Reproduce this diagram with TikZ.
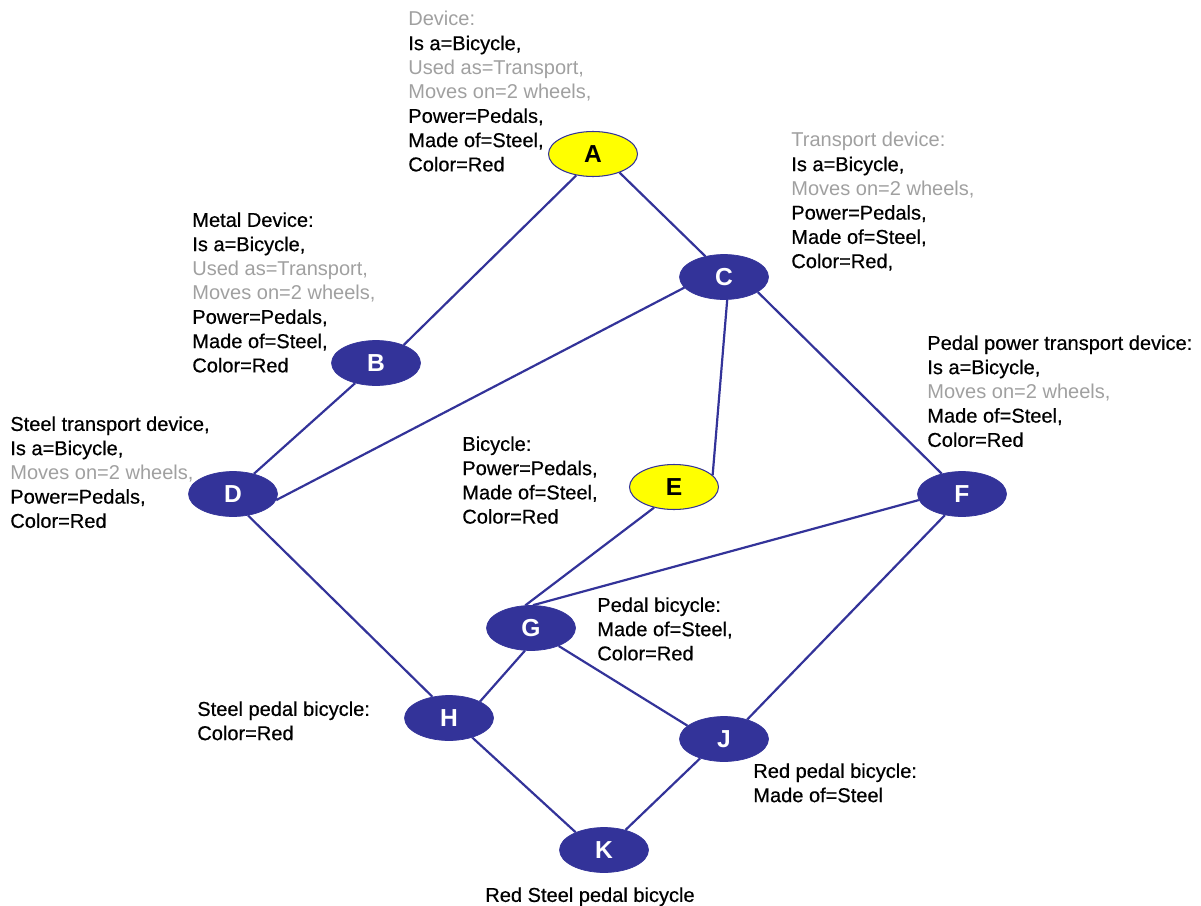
\documentclass[tikz,border=0pt]{standalone}
\usepackage{fontspec}
\setmainfont{Liberation Sans}
\newfontfamily\blkfont[FakeBold=0.5]{Liberation Sans}
\usetikzlibrary{shapes.geometric}
\definecolor{nodeblue}{HTML}{333399}
\definecolor{txtgray}{HTML}{A0A0A0}
\definecolor{ylw}{HTML}{FFFF00}
\newcommand{\greytxt}[1]{\textcolor{txtgray}{\rmfamily #1}}
\begin{document}
\begin{tikzpicture}[x=0.02cm,y=-0.02cm,
  conc/.style={ellipse, minimum width=1.78cm, minimum height=0.9cm, inner sep=0pt,
    font=\fontsize{14}{16}\selectfont\bfseries},
  dark/.style={conc, fill=nodeblue, draw=nodeblue, text=white},
  light/.style={conc, fill=ylw, draw=nodeblue, line width=0.6pt, text=black},
  lbl/.style={anchor=north west, inner sep=0pt, align=left, font=\blkfont\fontsize{11.4}{13.8}\selectfont},
  edge/.style={draw=nodeblue, line width=1.25pt}]
\useasboundingbox (0,0) rectangle (1201,906);
% nodes
\node[light] (A) at (593,154) {A};
\node[dark]  (C) at (724,277) {C};
\node[dark]  (B) at (376,363) {B};
\node[dark]  (D) at (233,494) {D};
\node[light] (E) at (674,487) {E};
\node[dark]  (F) at (962,494) {F};
\node[dark]  (G) at (531,628) {G};
\node[dark]  (H) at (449,718) {H};
\node[dark]  (J) at (724,739) {J};
\node[dark]  (K) at (604,850) {K};
% edges
\draw[edge] (A.232) -- (B.33);
\draw[edge] (A.-35) -- (C.132);
\draw[edge] (C.195) -- (D.-8);
\draw[edge] (C.-82) -- (E.17);
\draw[edge] (C.-24) -- (F.135);
\draw[edge] (B.224) -- (D.44);
\draw[edge] (D.-55) -- (H.128);
\draw[edge] (E.226) -- (G.104);
\draw[edge] (F.188) -- (G.85);
\draw[edge] (F.231) -- (J.40);
\draw[edge] (G.-105) -- (H.28);
\draw[edge] (G.-33) -- (J.160);
\draw[edge] (H.-40) -- (K.148);
\draw[edge] (J.219) -- (K.43);
% labels
\node[lbl] (lA) at (408,11) {\greytxt{Device:}\\Is a=Bicycle,\\\greytxt{Used as=Transport,}\\\greytxt{Moves on=2 wheels,}\\Power=Pedals,\\Made of=Steel,\\Color=Red};
\node[lbl] (lC) at (791,132) {\greytxt{Transport device:}\\Is a=Bicycle,\\\greytxt{Moves on=2 wheels,}\\Power=Pedals,\\Made of=Steel,\\Color=Red,};
\node[lbl] (lB) at (192,212) {Metal Device:\\Is a=Bicycle,\\\greytxt{Used as=Transport,}\\\greytxt{Moves on=2 wheels,}\\Power=Pedals,\\Made of=Steel,\\Color=Red};
\node[lbl] (lD) at (10,416) {Steel transport device,\\Is a=Bicycle,\\\greytxt{Moves on=2 wheels,}\\Power=Pedals,\\Color=Red};
\node[lbl] (lF) at (927,335) {Pedal power transport device:\\Is a=Bicycle,\\\greytxt{Moves on=2 wheels,}\\Made of=Steel,\\Color=Red};
\node[lbl] (lE) at (462,436) {Bicycle:\\Power=Pedals,\\Made of=Steel,\\Color=Red};
\node[lbl] (lG) at (597,597) {Pedal bicycle:\\Made of=Steel,\\Color=Red};
\node[lbl] (lH) at (197,701) {Steel pedal bicycle:\\Color=Red};
\node[lbl] (lJ) at (753,763) {Red pedal bicycle:\\Made of=Steel};
\node[lbl] (lK) at (485,887) {Red Steel pedal bicycle};
\end{tikzpicture}
\end{document}
